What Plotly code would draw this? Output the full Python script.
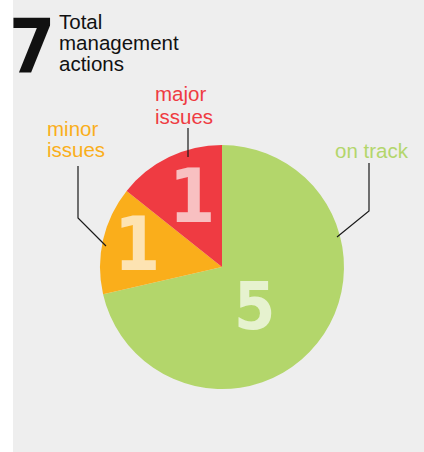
import math
import plotly.graph_objects as go

# Management actions by status
statuses = ["on track", "minor issues", "major issues"]
counts = [5, 1, 1]
slice_colors = ["#B3D66B", "#FAAE1B", "#EF3B42"]
number_colors = ["#E6F2CF", "#FDE3B2", "#F8C0C1"]
label_lines = [["on track"], ["minor", "issues"], ["major", "issues"]]

title_number = str(sum(counts))
title_lines = ["Total", "management", "actions"]

W, H = 424, 452
CX, CY, R = 222, 267, 122  # pie centre and radius in pixels
NUM_FONT = "DejaVu Sans Condensed, DejaVu Sans, sans-serif"


def px(x):
    return x / W


def py(y):
    return 1 - y / H


fig = go.Figure()

fig.add_trace(go.Pie(
    labels=statuses,
    values=counts,
    sort=False,
    direction="clockwise",
    rotation=0,
    marker=dict(colors=slice_colors, line=dict(width=0)),
    textinfo="none",
    hoverinfo="label+value",
    showlegend=False,
    domain=dict(x=[px(CX - R), px(CX + R)], y=[py(CY + R), py(CY - R)]),
))

annotations = []
shapes = [
    # grey panel
    dict(type="rect", xref="paper", yref="paper", x0=px(13), x1=1, y0=0, y1=1,
         fillcolor="#EEEEEE", line=dict(width=0), layer="below"),
]

# value numbers inside the slices, placed along each slice's mid-angle
total = sum(counts)
radial_frac = [0.42, 0.72, 0.63]
angle_shift = [12.0, 2.0, 3.0]
num_sizes = [66, 74, 74]
start = 0.0
for i, v in enumerate(counts):
    mid = (start + v / 2) / total * 2 * math.pi + math.radians(angle_shift[i])
    start += v
    r = R * radial_frac[i]
    x = CX + r * math.sin(mid)
    y = CY - r * math.cos(mid)
    annotations.append(dict(
        x=px(x), y=py(y), xref="paper", yref="paper", showarrow=False,
        text=str(v), xanchor="center", yanchor="middle",
        font=dict(family=NUM_FONT, size=num_sizes[i], color=number_colors[i],
                  weight="bold"),
    ))

# status labels (line baselines) and leader lines
label_pos = [(333, [157.7]), (45, [136, 157]), (153, [101.0, 123.5])]
leaders = [
    [(369, 163), (369, 211), (337, 237)],
    [(78, 166), (78, 218), (106, 246)],
    [(188, 128), (188, 157)],
]
FS = 20.5
for i, lines in enumerate(label_lines):
    x0, bases = label_pos[i]
    for text, base in zip(lines, bases):
        annotations.append(dict(
            x=px(x0), y=py(base - 7.2), xref="paper", yref="paper", showarrow=False,
            text=text, xanchor="left", yanchor="middle",
            font=dict(family="Liberation Sans, Arial, sans-serif", size=FS,
                      color=slice_colors[i]),
        ))
    pts = leaders[i]
    path = "M " + " L ".join(f"{px(a):.5f},{py(b):.5f}" for a, b in pts)
    shapes.append(dict(type="path", xref="paper", yref="paper", path=path,
                       line=dict(color="#1A1A1A", width=1.2)))

# title block
annotations.append(dict(
    x=px(57), y=py(46), xref="paper", yref="paper", showarrow=False,
    text=title_number, xanchor="right", yanchor="middle",
    font=dict(family=NUM_FONT, size=74, color="#111111", weight="bold"),
))
for text, base in zip(title_lines, [28.3, 49.3, 70.5]):
    annotations.append(dict(
        x=px(57), y=py(base - 7.2), xref="paper", yref="paper", showarrow=False,
        text=text, xanchor="left", yanchor="middle",
        font=dict(family="Liberation Sans, Arial, sans-serif", size=FS, color="#111111"),
    ))

fig.update_layout(
    width=W, height=H,
    margin=dict(l=0, r=0, t=0, b=0),
    paper_bgcolor="#FFFFFF",
    annotations=annotations,
    shapes=shapes,
)

fig.write_html("out.html")
